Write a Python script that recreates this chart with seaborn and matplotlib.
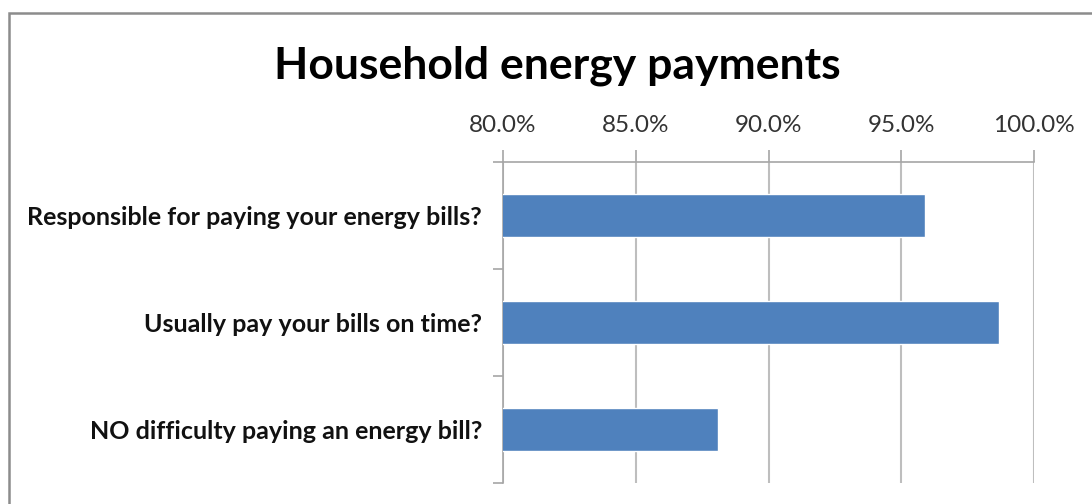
import matplotlib
matplotlib.use("Agg")
import matplotlib.pyplot as plt
from matplotlib.patches import Rectangle
from matplotlib.ticker import FuncFormatter, FixedLocator
import seaborn as sns
import pandas as pd

# Survey questions and share of households answering yes (%)
questions = [
    "Responsible for paying your energy bills?",
    "Usually pay your bills on time?",
    "NO difficulty paying an energy bill?",
]
shares = [95.9, 98.7, 88.1]
x_ticks = [80, 85, 90, 95, 100]

df = pd.DataFrame({"question": questions, "share": shares})

sns.set_theme(style="white")
plt.rcParams["font.family"] = ["Lato", "DejaVu Sans"]

fig = plt.figure(figsize=(10.92, 5.04), dpi=100)
ax = fig.add_axes([503 / 1092, 1 - 483 / 504, (1034 - 503) / 1092, (483 - 162) / 504])

sns.barplot(data=df, x="share", y="question", orient="h", color="#4F81BD",
            width=0.4, saturation=1, ax=ax, zorder=3)

ax.set_xlim(80, 100)
ax.set_ylim(2.5, -0.5)
ax.xaxis.set_major_locator(FixedLocator(x_ticks))
ax.xaxis.set_major_formatter(FuncFormatter(lambda v, p: f"{v:.1f}%"))
ax.xaxis.tick_top()
ax.xaxis.set_label_position("top")
ax.grid(axis="x", color="#BEBEBE", linewidth=1.5, zorder=0)
ax.set_axisbelow(True)
ax.set_xlabel("")
ax.set_ylabel("")

for side in ("right", "bottom"):
    ax.spines[side].set_visible(False)
for side in ("left", "top"):
    ax.spines[side].set_color("#A6A6A6")
    ax.spines[side].set_linewidth(1.2)

ax.tick_params(axis="x", which="major", top=True, bottom=False, direction="out",
               length=9, width=1.2, color="#A6A6A6", labelsize=17.5, labelcolor="#333333",
               pad=10)
ax.tick_params(axis="y", which="major", left=False, labelsize=18, pad=9)
ax.yaxis.set_minor_locator(FixedLocator([-0.5, 0.5, 1.5, 2.5]))
ax.tick_params(axis="y", which="minor", left=True, direction="out", length=7,
               width=1.2, color="#A6A6A6")
for lbl in ax.get_yticklabels():
    lbl.set_fontweight("bold")
    lbl.set_color("#111111")

fig.text(557 / 1092, 1 - 66 / 504, "Household energy payments", ha="center",
         va="center", fontsize=32, fontweight="bold", color="#000000")

fig.add_artist(Rectangle((9 / 1092, -0.2), 1.2, (504 - 13) / 504 + 0.2,
                         transform=fig.transFigure, fill=False,
                         edgecolor="#8C8C8C", linewidth=1.8))

fig.savefig("out.png", dpi=100, facecolor="white")
